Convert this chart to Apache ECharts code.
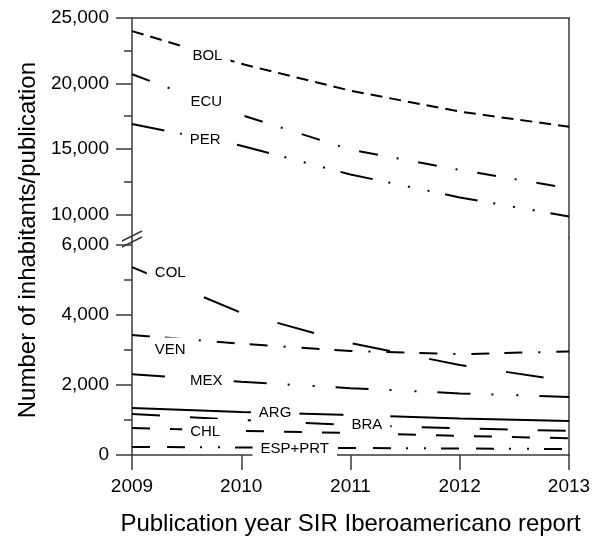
<!DOCTYPE html>
<html>
<head>
<meta charset="utf-8">
<script src="https://cdn.jsdelivr.net/npm/echarts@6/dist/echarts.min.js"></script>
<style>
  html, body { margin: 0; padding: 0; background: #fff; }
  #chart { width: 600px; height: 540px; }
</style>
</head>
<body>
<div id="chart"></div>
<script>
const years = [2009, 2010, 2011, 2012, 2013];

// upper panel (10,000 - 25,000)
const bol = [24000, 21500, 19450, 17850, 16700];
const ecu = [20700, 17600, 14950, 13400, 12000];
const per = [16900, 15250, 13050, 11300, 9850];

// lower panel (0 - 6,000)
const col = [5370, 4060, 3200, 2570, 2110];
const ven = [3430, 3180, 2970, 2880, 2960];
const mex = [2310, 2090, 1910, 1760, 1660];
const arg = [1340, 1230, 1140, 1045, 970];
const bra = [1170, 1000, 860, 760, 690];
const chl = [770, 690, 630, 545, 480];
const espPrt = [230, 215, 200, 185, 170];

const upperTicks = [10000, 15000, 20000, 25000];
const upperMinor = [12500, 17500, 22500];
const lowerTicks = [0, 2000, 4000, 6000];
const lowerMinor = [1000, 3000, 5000];

// where each country name sits on its line (year, value)
const upperNames = [["BOL", 2009.69, 22140], ["ECU", 2009.68, 18590], ["PER", 2009.67, 15730]];
const lowerNames = [
  ["COL", 2009.35, 5200], ["VEN", 2009.35, 3000], ["MEX", 2009.68, 2114],
  ["ARG", 2010.31, 1214], ["BRA", 2011.15, 871], ["CHL", 2009.67, 671],
  ["ESP+PRT", 2010.49, 186]
];

const FONT = "Liberation Sans";
const AXIS = "#3a3a3a";

const pairs = vals => years.map((y, i) => [y, vals[i]]);

function line(name, vals, dash, yIdx) {
  return {
    name: name,
    type: "line",
    xAxisIndex: yIdx === 0 ? 0 : 1,
    yAxisIndex: yIdx,
    data: pairs(vals),
    symbol: "none",
    silent: true,
    z: 2,
    lineStyle: { color: "#000", width: 2, type: dash }
  };
}

function names(list, yIdx) {
  return {
    type: "scatter",
    xAxisIndex: yIdx === 0 ? 0 : 1,
    yAxisIndex: yIdx,
    data: list.map(d => [d[1], d[2], d[0]]),
    symbolSize: 2,
    itemStyle: { color: "rgba(0,0,0,0)", opacity: 1 },
    silent: true,
    z: 5,
    label: {
      show: true,
      position: "inside",
      formatter: p => p.value[2],
      color: "#000",
      opacity: 1,
      fontFamily: FONT,
      fontSize: 15,
      backgroundColor: "#fff",
      padding: [5, 8]
    }
  };
}

function yAx(gridIndex, min, max, opts) {
  return Object.assign({
    type: "value",
    gridIndex: gridIndex,
    min: min,
    max: max,
    splitLine: { show: false },
    axisLine: { show: true, lineStyle: { color: AXIS, width: 1.5 } },
    axisTick: { show: false },
    axisLabel: { show: false }
  }, opts);
}

const xBase = {
  type: "value",
  min: 2009,
  max: 2013,
  interval: 1,
  splitLine: { show: false }
};

const chart = echarts.init(document.getElementById("chart"));
chart.setOption({
  animation: false,
  backgroundColor: "#fff",
  grid: [
    { left: 132, right: 31, top: 18, height: 220 },
    { left: 132, right: 31, top: 238, height: 217 }
  ],
  xAxis: [
    Object.assign({}, xBase, {
      gridIndex: 0,
      position: "top",
      axisLine: { show: true, lineStyle: { color: AXIS, width: 1.5 } },
      axisTick: { show: false },
      axisLabel: { show: false }
    }),
    Object.assign({}, xBase, {
      gridIndex: 1,
      position: "bottom",
      axisLine: { show: true, onZero: false, lineStyle: { color: AXIS, width: 1.5 } },
      axisTick: { show: true, length: 15, lineStyle: { color: AXIS, width: 1.5 } },
      axisLabel: {
        margin: 22, color: "#000", fontFamily: FONT, fontSize: 19,
        formatter: v => String(v)
      },
      name: "Publication year SIR Iberoamericano report",
      nameLocation: "middle",
      nameGap: 57,
      nameTextStyle: { color: "#000", fontFamily: FONT, fontSize: 24 }
    })
  ],
  yAxis: [
    yAx(0, 8200, 25000, {
      position: "left",
      axisTick: { show: true, length: 16, customValues: upperTicks, lineStyle: { color: AXIS, width: 1.5 } },
      axisLabel: { show: true, customValues: upperTicks, margin: 23, color: "#000", fontFamily: FONT, fontSize: 19 }
    }),
    yAx(0, 8200, 25000, {
      position: "left",
      axisLine: { show: false },
      axisTick: { show: true, length: 8, customValues: upperMinor, lineStyle: { color: AXIS, width: 1.5 } }
    }),
    yAx(0, 8200, 25000, { position: "right" }),
    yAx(1, 0, 6200, {
      position: "left",
      axisTick: { show: true, length: 16, customValues: lowerTicks, lineStyle: { color: AXIS, width: 1.5 } },
      axisLabel: { show: true, customValues: lowerTicks, margin: 23, color: "#000", fontFamily: FONT, fontSize: 19 }
    }),
    yAx(1, 0, 6200, {
      position: "left",
      axisLine: { show: false },
      axisTick: { show: true, length: 8, customValues: lowerMinor, lineStyle: { color: AXIS, width: 1.5 } }
    }),
    yAx(1, 0, 6200, { position: "right" })
  ],
  graphic: [
    {
      type: "text",
      left: 16,
      top: 62,
      rotation: Math.PI / 2,
      style: {
        text: "Number of inhabitants/publication",
        fill: "#000",
        font: "24px " + FONT
      }
    },
    // axis break marks
    { type: "line", shape: { x1: 122, y1: 241, x2: 142, y2: 231 }, style: { stroke: AXIS, lineWidth: 1.5 }, z: 10 },
    { type: "line", shape: { x1: 122, y1: 247, x2: 142, y2: 237 }, style: { stroke: AXIS, lineWidth: 1.5 }, z: 10 }
  ],
  series: [
    line("BOL", bol, [12, 7], 0),
    line("ECU", ecu, [19, 19, 2, 20], 0),
    line("PER", per, [33, 16, 2, 18, 2, 18, 2, 16], 0),
    line("COL", col, [38, 40], 3),
    line("VEN", ven, [18, 15, 18, 16, 2, 16], 3),
    line("MEX", mex, [33, 21, 2, 23, 2, 21], 3),
    line("ARG", arg, "solid", 3),
    line("BRA", bra, [28, 30], 3),
    line("CHL", chl, [18, 20], 3),
    line("ESP+PRT", espPrt, [18, 17, 18, 15, 2, 16, 2, 15], 3),
    names(upperNames, 0),
    names(lowerNames, 3)
  ]
});
</script>
</body>
</html>
